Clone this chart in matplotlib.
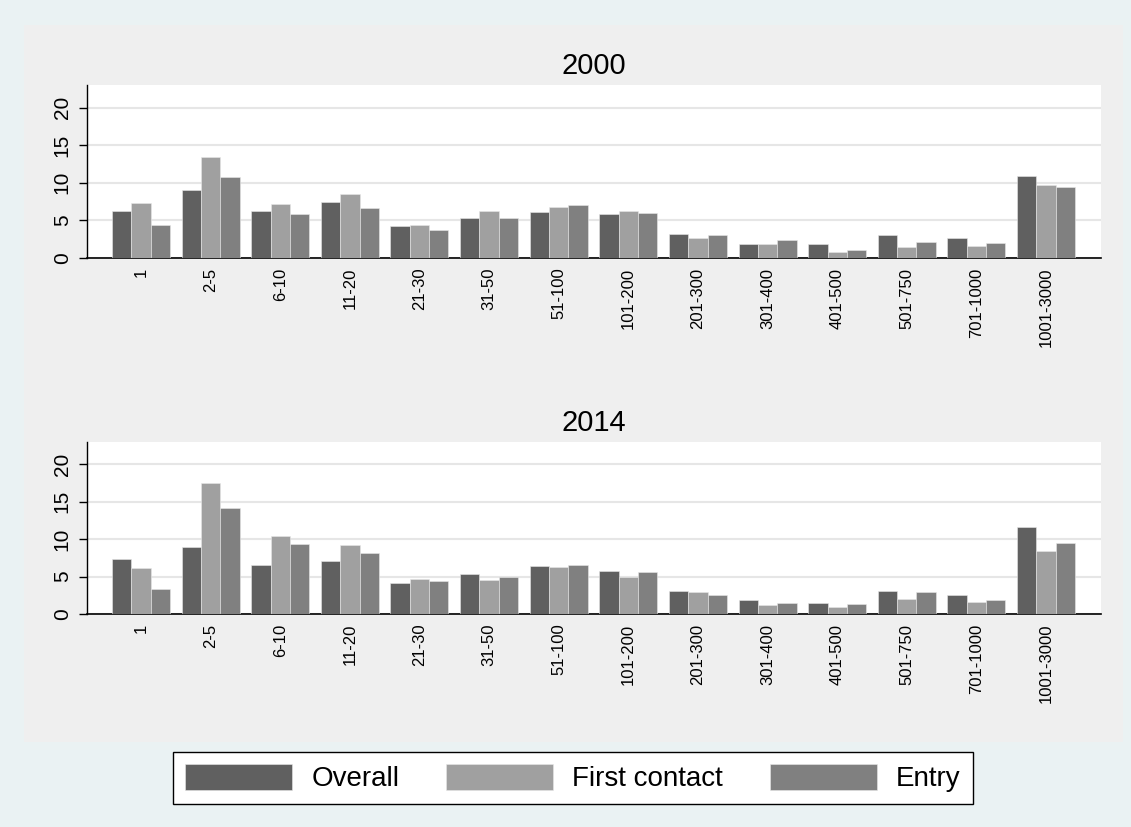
import matplotlib
matplotlib.use("Agg")
import matplotlib.pyplot as plt
from matplotlib.patches import Rectangle
import numpy as np

plt.rcParams['font.family'] = ['Liberation Sans', 'DejaVu Sans']

# size classes
categories = ['1', '2-5', '6-10', '11-20', '21-30', '31-50', '51-100', '101-200',
              '201-300', '301-400', '401-500', '501-750', '701-1000', '1001-3000']
series_names = ['Overall', 'First contact', 'Entry']
colors = ['#606060', '#a0a0a0', '#808080']

# 2000
overall_2000 = [6.2, 9.0, 6.3, 7.4, 4.2, 5.3, 6.1, 5.8, 3.2, 1.9, 1.8, 3.0, 2.7, 10.9]
first_2000 = [7.3, 13.4, 7.2, 8.5, 4.4, 6.2, 6.8, 6.2, 2.7, 1.8, 0.8, 1.5, 1.6, 9.7]
entry_2000 = [4.4, 10.8, 5.9, 6.7, 3.7, 5.3, 7.0, 6.0, 3.1, 2.4, 1.1, 2.1, 2.0, 9.4]

# 2014
overall_2014 = [7.3, 8.9, 6.5, 7.1, 4.2, 5.3, 6.4, 5.8, 3.1, 1.9, 1.5, 3.1, 2.6, 11.6]
first_2014 = [6.1, 17.5, 10.4, 9.2, 4.7, 4.5, 6.3, 4.9, 2.9, 1.2, 1.0, 2.0, 1.6, 8.4]
entry_2014 = [3.4, 14.2, 9.3, 8.2, 4.4, 5.0, 6.6, 5.6, 2.6, 1.5, 1.4, 2.9, 1.9, 9.5]

panels = [('2000', [overall_2000, first_2000, entry_2000]),
          ('2014', [overall_2014, first_2014, entry_2014])]

W, H = 1131, 827
fig = plt.figure(figsize=(W / 100, H / 100), dpi=100)
fig.patch.set_facecolor('#eaf2f3')
# inner graph region
fig.patches.append(Rectangle((24 / W, 1 - 742 / H), (1123 - 24) / W, (742 - 25) / H,
                             transform=fig.transFigure, facecolor='#efefef',
                             edgecolor='none', zorder=-5))

# axes boxes in pixels: (left, top, right, bottom)
boxes = [(87, 85, 1101, 258), (87, 442, 1101, 614)]
title_y = [66, 423]

x = np.arange(len(categories))
gw = 0.833
bw = gw / 3
handles = []
for (title, series), box, ty in zip(panels, boxes, title_y):
    l, t, r, b = box
    ax = fig.add_axes([l / W, 1 - b / H, (r - l) / W, (b - t) / H])
    ax.set_facecolor('white')
    for k, (vals, c) in enumerate(zip(series, colors)):
        bars = ax.bar(x + (k - 1) * bw, vals, width=bw, color=c,
                      edgecolor='#e8e8e8', linewidth=0.4, zorder=3)
        if len(handles) < 3:
            handles.append(bars)
    ax.set_xlim(-gw / 2 - 0.359, len(categories) - 1 + gw / 2 + 0.373)
    ax.set_ylim(0, 23)
    ax.set_yticks([0, 5, 10, 15, 20])
    ax.yaxis.grid(True, color='#e6e6e6', linewidth=1.5, zorder=0)
    ax.set_axisbelow(True)
    ax.set_xticks(x)
    ax.set_xticklabels(categories, rotation=90, fontsize=12, va='top')
    ax.tick_params(axis='x', length=0, pad=7)
    ax.tick_params(axis='y', length=6, width=1, labelsize=15, pad=5)
    for lab in ax.get_yticklabels():
        lab.set_rotation(90)
        lab.set_va('center')
    ax.spines['top'].set_visible(False)
    ax.spines['right'].set_visible(False)
    ax.spines['left'].set_linewidth(1)
    ax.spines['bottom'].set_linewidth(1.2)
    fig.text(594 / W, 1 - ty / H, title, ha='center', va='center', fontsize=21)

leg = fig.legend(handles, series_names, loc='center', ncol=3,
                 bbox_to_anchor=(573 / W, 1 - 778 / H), fontsize=20,
                 frameon=True, fancybox=False, edgecolor='black', framealpha=1,
                 handlelength=3.85, handleheight=1.1, handletextpad=0.68,
                 columnspacing=1.7, borderpad=0.43)
leg.get_frame().set_linewidth(1.0)
leg.get_frame().set_facecolor('white')

fig.savefig('out.png', dpi=100, facecolor=fig.get_facecolor())
